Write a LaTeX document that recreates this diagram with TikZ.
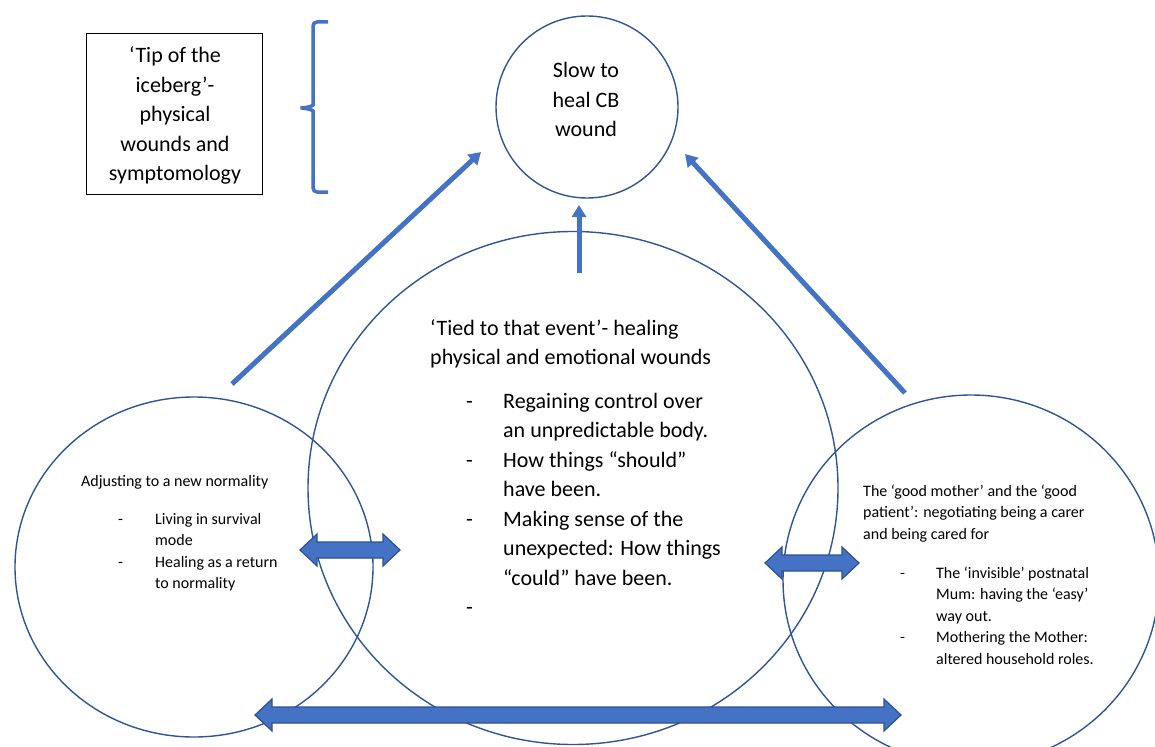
\documentclass[tikz,border=0pt]{standalone}
\usepackage{fontspec}
\setmainfont{Carlito}
\usetikzlibrary{arrows.meta, shapes.geometric, calc}
\usepackage{xcolor}
\definecolor{OBlue}{HTML}{4472C4}
\definecolor{RingBlue}{HTML}{2F5597}
\definecolor{EdgeBlue}{HTML}{2F528F}
\tikzset{
  ring/.style={draw=RingBlue, line width=1.4pt, ellipse, inner sep=0pt},
  tipbox/.style={draw=black, line width=0.8pt, minimum width=176pt, minimum height=161pt, inner sep=0pt},
  bigtext/.style={font=\fontsize{22}{29.5}\selectfont, inner sep=0pt},
  smalltext/.style={font=\fontsize{16}{21.5}\selectfont, inner sep=0pt, anchor=base west},
  flow/.style={-{Triangle[length=12pt, width=14pt]}, line width=5pt, draw=OBlue},
  brace/.style={draw=OBlue, line width=3.5pt, rounded corners=4pt},
  blockarrow/.style={fill=OBlue, draw=EdgeBlue, line width=1.2pt, line join=miter},
}
% two-headed block arrow from left tip #1 to right tip #2
\newcommand{\twoway}[2]{%
  \filldraw[blockarrow] (#1) -- ++(17,-16) -- ++(0,8) -- ($(#2)+(-17,-8)$) -- ++(0,-8) -- (#2)
    -- ++(-17,16) -- ++(0,-8) -- ($(#1)+(17,8)$) -- ++(0,8) -- cycle;}

\begin{document}
\begin{tikzpicture}[x=1pt, y=-1pt]
  \clip (0,0) rectangle (1155,746);
  % circles
  \node[ring, minimum width=182pt, minimum height=182pt] (slow) at (587,107) {};
  \node[ring, minimum width=530pt, minimum height=513pt] (tied) at (573,488) {};
  \node[ring, minimum width=358pt, minimum height=340pt] (adjust) at (194,567) {};
  \node[ring, minimum width=376pt, minimum height=370pt] (mother) at (971,580) {};
  % iceberg box and brace
  \node[tipbox] (tip) at (174,113.5) {};
  \node[bigtext, anchor=base] (tiptxt) at (175,63)
    {\begin{tabular}[t]{@{}c@{}}‘Tip of the\\iceberg’-\\physical\\wounds and\\symptomology\end{tabular}};
  \draw[brace] (328,22) -- (313,22) -- (313,101) .. controls (313,106) and (305,108) .. (298,108)
    .. controls (305,108) and (313,110) .. (313,115) -- (313,192) -- (328,192);
  % texts
  \node[bigtext, anchor=base] (slowtxt) at (586,78)
    {\begin{tabular}[t]{@{}c@{}}Slow to\\heal CB\\wound\end{tabular}};
  \node[bigtext, anchor=base west] (tiedhead) at (430,335)
    {\begin{tabular}[t]{@{}l@{}}‘Tied to that event’- healing\\physical and emotional wounds\end{tabular}};
  \node[bigtext, anchor=base west] (tiedlist) at (466,408)
    {\begin{tabular}[t]{@{}p{37pt}@{}l@{}}
      - & Regaining control over\\
        & an unpredictable body.\\
      - & How things “should”\\
        & have been.\\
      - & Making sense of the\\
        & unexpected: How things\\
        & “could” have been.\\
      - & \\
    \end{tabular}};
  \node[smalltext] (adjhead) at (81,486)
    {\begin{tabular}[t]{@{}l@{}}Adjusting to a new normality\end{tabular}};
  \node[smalltext] (adjlist) at (118,524)
    {\begin{tabular}[t]{@{}p{37pt}@{}l@{}}
      - & Living in survival\\
        & mode\\
      - & Healing as a return\\
        & to normality\\
    \end{tabular}};
  \node[smalltext] (mothead) at (863,496)
    {\begin{tabular}[t]{@{}l@{}}The ‘good mother’ and the ‘good\\patient’: negotiating being a carer\\and being cared for\end{tabular}};
  \node[smalltext] (motlist) at (900,578)
    {\begin{tabular}[t]{@{}p{36pt}@{}l@{}}
      - & The ‘invisible’ postnatal\\
        & Mum: having the ‘easy’\\
        & way out.\\
      - & Mothering the Mother:\\
        & altered household roles.\\
    \end{tabular}};
  % arrows up to the wound
  \coordinate (la) at (232,384);
  \coordinate (lb) at (481,152);
  \coordinate (ma) at (579,273);
  \coordinate (mb) at (579,205);
  \coordinate (ra) at (905,393);
  \coordinate (rb) at (685,154);
  \draw[flow] (la) -- (lb);
  \draw[flow] (ma) -- (mb);
  \draw[flow] (ra) -- (rb);
  % two-way arrows between the circles
  \coordinate (adjtiedl) at (300,550);
  \coordinate (adjtiedr) at (400,550);
  \coordinate (tiedmotl) at (765,563);
  \coordinate (tiedmotr) at (859,563);
  \coordinate (adjmotl) at (255,715);
  \coordinate (adjmotr) at (901,715);
  \twoway{adjtiedl}{adjtiedr}
  \twoway{tiedmotl}{tiedmotr}
  \twoway{adjmotl}{adjmotr}
\end{tikzpicture}
\end{document}
